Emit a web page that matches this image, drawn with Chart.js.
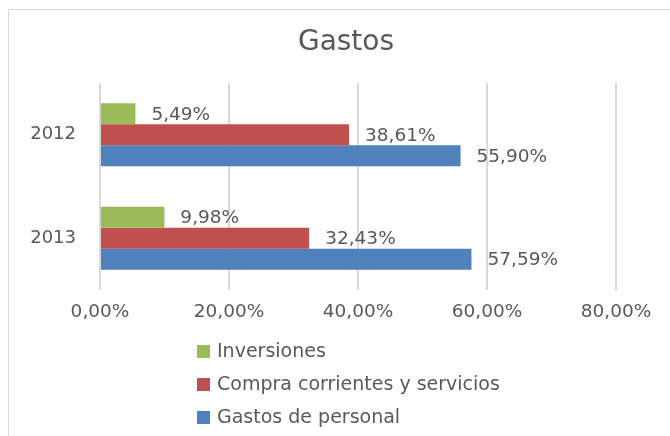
<!DOCTYPE html>
<html>
<head>
<meta charset="utf-8">
<script src="https://cdn.jsdelivr.net/npm/chart.js@4/dist/chart.umd.min.js"></script>
<style>
html,body{margin:0;padding:0;background:#fff;}
#wrap{width:670px;height:436px;position:relative;}
</style>
</head>
<body>
<div id="wrap"><canvas id="c" width="670" height="436"></canvas></div>
<script>
const categories = ["2012", "2013"];
const inversiones = [5.49, 9.98];
const compraCorrientes = [38.61, 32.43];
const gastosPersonal = [55.90, 57.59];
const seriesNames = ["Inversiones", "Compra corrientes y servicios", "Gastos de personal"];
const seriesColors = ["#9bbb59", "#c0504d", "#4f81bd"];
const xTicks = [0, 20, 40, 60, 80];
const chartTitle = "Gastos";

const FONT = "'DejaVu Sans', sans-serif";
const TEXT = "#595959";
const fmt = v => v.toFixed(2).replace('.', ',') + '%';

const framePlugin = {
  id: 'frame',
  beforeDraw(chart) {
    const ctx = chart.ctx;
    ctx.save();
    ctx.fillStyle = '#fff';
    ctx.fillRect(0, 0, chart.width, chart.height);
    ctx.strokeStyle = '#d9d9d9';
    ctx.lineWidth = 1;
    ctx.strokeRect(8.5, 9.5, 800, 600);
    ctx.restore();
  },
  afterDraw(chart) {
    const ctx = chart.ctx;
    ctx.save();
    ctx.font = "28px " + FONT;
    ctx.fillStyle = TEXT;
    ctx.textAlign = 'center';
    ctx.textBaseline = 'middle';
    ctx.fillText(chartTitle, 346, 43);
    ctx.restore();
  }
};

const labelPlugin = {
  id: 'valueLabels',
  afterDatasetsDraw(chart) {
    const ctx = chart.ctx;
    ctx.save();
    ctx.font = "18.5px " + FONT;
    ctx.fillStyle = TEXT;
    ctx.textAlign = 'left';
    ctx.textBaseline = 'middle';
    chart.data.datasets.forEach((ds, i) => {
      const meta = chart.getDatasetMeta(i);
      meta.data.forEach((bar, j) => {
        ctx.fillText(fmt(ds.data[j]), bar.x + 16, bar.y + 1);
      });
    });
    ctx.restore();
  }
};

const legendPlugin = {
  id: 'vLegend',
  afterDraw(chart) {
    const ctx = chart.ctx;
    ctx.save();
    ctx.font = "19px " + FONT;
    ctx.textAlign = 'left';
    ctx.textBaseline = 'middle';
    const top = chart.chartArea.bottom + 61;
    chart.data.datasets.forEach((ds, i) => {
      const y = top + i * 33;
      ctx.fillStyle = ds.backgroundColor;
      ctx.fillRect(197, y - 6, 13, 13);
      ctx.fillStyle = TEXT;
      ctx.fillText(ds.label, 217, y + 1);
    });
    ctx.restore();
  }
};

const seriesData = [inversiones, compraCorrientes, gastosPersonal];

new Chart(document.getElementById('c'), {
  type: 'bar',
  data: {
    labels: categories,
    datasets: seriesNames.map((n, i) => ({
      label: n,
      data: seriesData[i],
      backgroundColor: seriesColors[i],
      categoryPercentage: 0.61,
      barPercentage: 1.0
    }))
  },
  options: {
    indexAxis: 'y',
    responsive: false,
    animation: false,
    layout: { padding: { left: 0, right: 54, top: 83, bottom: 106 } },
    plugins: {
      legend: { display: false },
      tooltip: { enabled: false },
      title: { display: false }
    },
    scales: {
      x: {
        min: 0, max: 80,
        afterBuildTicks: s => { s.ticks = xTicks.map(v => ({ value: v })); },
        afterFit: s => { s.height = 40; },
        grid: { color: '#d9d9d9', lineWidth: 2, drawTicks: false },
        border: { display: false },
        ticks: {
          color: TEXT, padding: 11,
          font: { family: FONT, size: 18.5 },
          callback: v => fmt(v)
        }
      },
      y: {
        afterFit: s => { s.width = 100; },
        grid: { display: false, drawTicks: false },
        border: { display: false },
        ticks: { color: TEXT, padding: 24, font: { family: FONT, size: 18 } }
      }
    }
  },
  plugins: [framePlugin, labelPlugin, legendPlugin]
});
</script>
</body>
</html>
